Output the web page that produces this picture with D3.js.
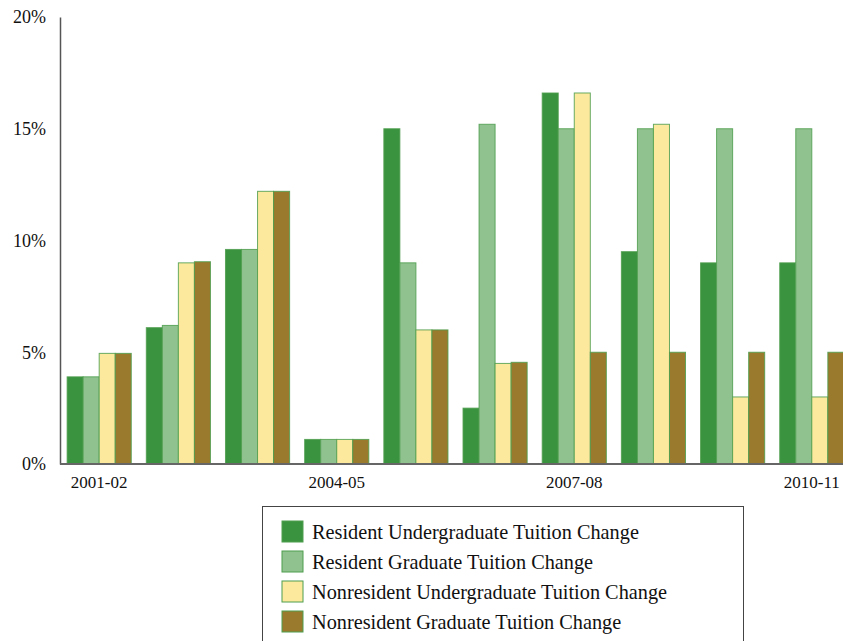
<!DOCTYPE html>
<html><head><meta charset="utf-8">
<script src="https://cdn.jsdelivr.net/npm/d3@7"></script>
<style>body{margin:0;background:#fff;} svg{display:block;}</style>
</head><body>
<svg id="c" width="843" height="641"></svg>
<script>
const years = ["2001-02","2002-03","2003-04","2004-05","2005-06","2006-07","2007-08","2008-09","2009-10","2010-11"];
const shownYears = ["2001-02","2004-05","2007-08","2010-11"];
const seriesNames = ["Resident Undergraduate Tuition Change","Resident Graduate Tuition Change","Nonresident Undergraduate Tuition Change","Nonresident Graduate Tuition Change"];
const residentUndergrad = [3.9, 6.1, 9.6, 1.1, 15.0, 2.5, 16.6, 9.5, 9.0, 9.0];
const residentGrad      = [3.9, 6.2, 9.6, 1.1, 9.0, 15.2, 15.0, 15.0, 15.0, 15.0];
const nonresUndergrad   = [4.95, 9.0, 12.2, 1.1, 6.0, 4.5, 16.6, 15.2, 3.0, 3.0];
const nonresGrad        = [4.95, 9.05, 12.2, 1.1, 6.0, 4.55, 5.0, 5.0, 5.0, 5.0];
const yTicks = [0, 5, 10, 15, 20];
const colors = ["#3a933e","#90c290","#fde99e","#9a7a2c"];

const allSeries = [residentUndergrad, residentGrad, nonresUndergrad, nonresGrad];
const svg = d3.select("#c");
const font = "'Liberation Serif', serif";
const x0 = 60, yTop = 17, yBot = 464;

const x = d3.scaleBand().domain(years).range([x0, 851]).paddingInner(0.19).paddingOuter(0.09);
const xs = d3.scaleBand().domain(d3.range(4)).range([0, x.bandwidth()]);
const y = d3.scaleLinear().domain([0, 20]).range([yBot, yTop]);

// bars
years.forEach((yr, i) => {
  allSeries.forEach((s, j) => {
    svg.append("rect")
      .attr("x", x(yr) + xs(j))
      .attr("y", y(s[i]))
      .attr("width", xs.bandwidth())
      .attr("height", y(0) - y(s[i]))
      .attr("fill", colors[j])
      .attr("stroke", "#4f9e4f")
      .attr("stroke-width", 1)
      .attr("stroke-opacity", 0.85);
  });
});

// y axis
const yAxis = svg.append("g").attr("transform", `translate(${x0},0)`)
  .call(d3.axisLeft(y).tickValues(yTicks).tickSize(0).tickPadding(14).tickFormat(d => d + "%"));
yAxis.select(".domain").attr("stroke", "#555").attr("stroke-width", 1.5);
yAxis.selectAll("text").attr("font-family", font).attr("font-size", 18).attr("fill", "#111").attr("dy", "0.32em");

// x axis
const xAxis = svg.append("g").attr("transform", `translate(0,${yBot})`)
  .call(d3.axisBottom(x).tickValues(shownYears).tickSize(0).tickPadding(12));
xAxis.select(".domain").attr("stroke", "#666").attr("stroke-width", 2).attr("d", `M${x0},0H843`);
xAxis.selectAll("text").attr("font-family", font).attr("font-size", 17).attr("fill", "#111");

// legend
const lg = svg.append("g");
lg.append("rect").attr("x", 262.5).attr("y", 506.5).attr("width", 481).attr("height", 150)
  .attr("fill", "#fff").attr("stroke", "#444").attr("stroke-width", 1);
seriesNames.forEach((n, j) => {
  const cy = 532 + j * 30;
  lg.append("rect").attr("x", 282).attr("y", cy - 11).attr("width", 21).attr("height", 21)
    .attr("fill", colors[j]).attr("stroke", "#4f9e4f").attr("stroke-width", 1);
  lg.append("text").attr("x", 312).attr("y", cy).attr("dy", "0.35em")
    .attr("font-family", font).attr("font-size", 20.3).attr("fill", "#111").text(n);
});
</script>
</body></html>
